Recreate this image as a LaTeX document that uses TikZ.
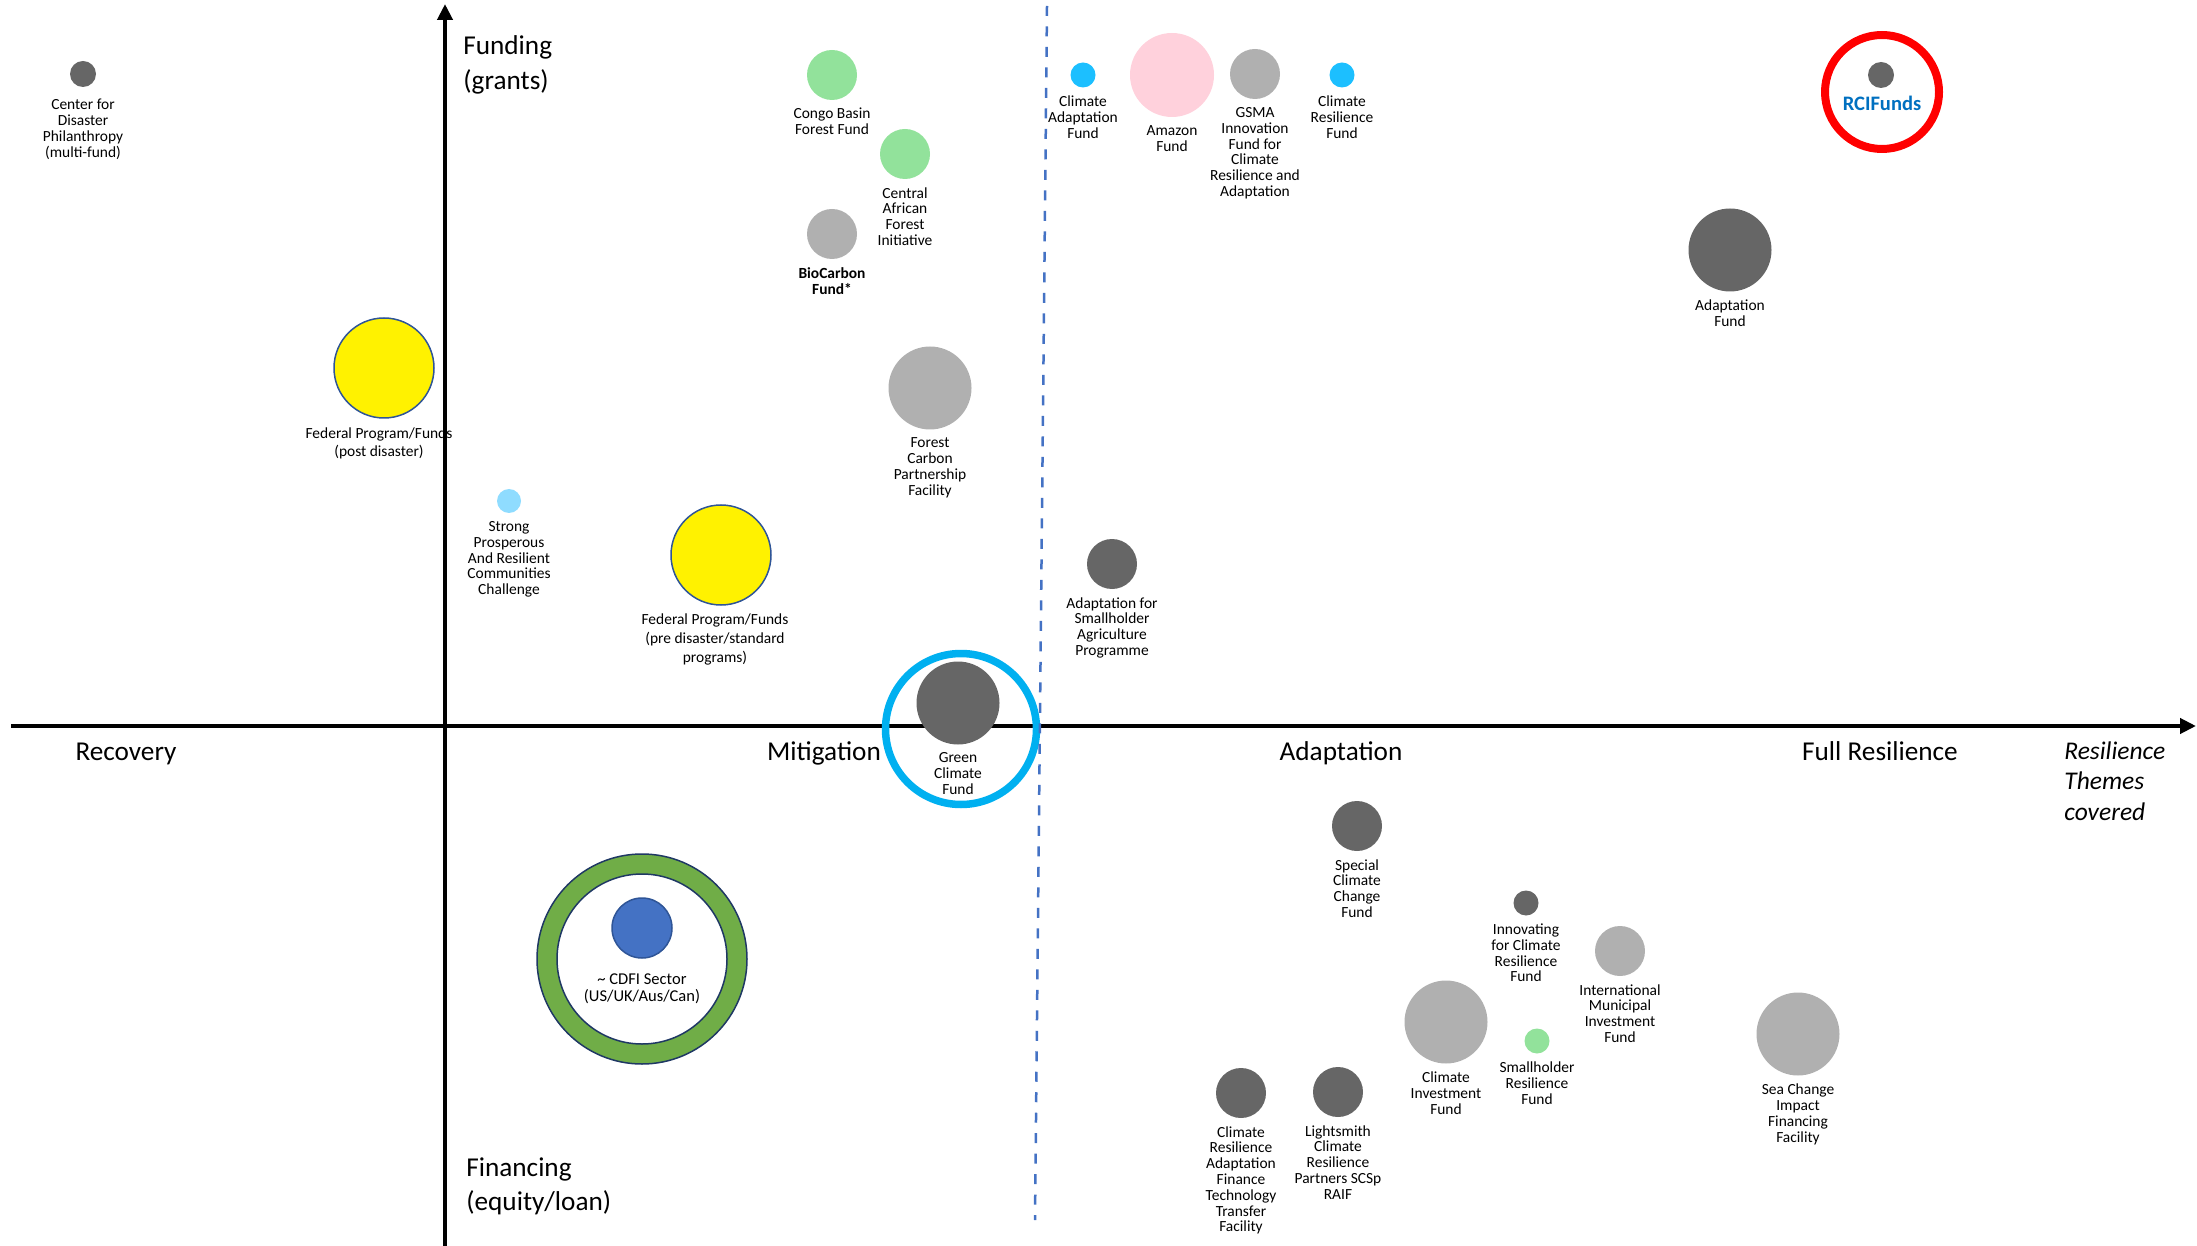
\documentclass[tikz,border=0pt]{standalone}
\usepackage{fontspec}
\setmainfont{Carlito}
\usetikzlibrary{positioning,arrows.meta}
\definecolor{dkgray}{HTML}{666666}
\definecolor{ltgray}{HTML}{B0B0B0}
\definecolor{mint}{HTML}{92E29B}
\definecolor{sky}{HTML}{1CBFFF}
\definecolor{pale}{HTML}{8FDCFF}
\definecolor{rose}{HTML}{FFD1DC}
\definecolor{navy}{HTML}{2F5597}
\definecolor{ringblue}{HTML}{00B0F0}
\definecolor{dashblue}{HTML}{4472C4}
\definecolor{leaf}{HTML}{70AD47}
\definecolor{deepnavy}{HTML}{1F3864}
\definecolor{rcitext}{HTML}{0070C0}
\tikzset{
	dot/.style={circle,inner sep=0pt,outer sep=0pt,minimum size=#1*0.02cm},
	ring/.style={circle,inner sep=0pt,outer sep=0pt,minimum size=#1*0.02cm},
	lbl/.style={align=center,inner sep=0pt,font=\fontsize{8.8}{9}\selectfont},
	axislbl/.style={inner sep=0pt,font=\fontsize{15.5}{19.8}\selectfont},
}
% one fund: name, centre, diameter, colour, label
\newcommand\fund[5]{\node (#1) [dot=#3,fill=#4] at (#2) {};
	\node (#1-t) [lbl,below=of #1] {#5};}
\begin{document}
\begin{tikzpicture}[x=0.02cm,y=-0.02cm,node distance=0.16cm]
	\useasboundingbox (0,0) rectangle (2197,1246);
	\coordinate (xs) at (11,726); \coordinate (xe) at (2196,726);
	\draw[line width=0.09cm,-{Triangle[length=0.32cm,width=0.3cm]}] (xs)--(xe);
	% axis texts
	\node (recov) [axislbl,anchor=base] at (126,760) {Recovery};
	\node (mitig) [axislbl,anchor=base] at (824,760) {Mitigation};
	\node (adapt) [axislbl,anchor=base] at (1341,760) {Adaptation};
	\node (fullres) [axislbl,anchor=base] at (1880,760) {Full Resilience};
	\node (fundg) [axislbl,align=left,anchor=north west] at (463,35) {Funding\\(grants)};
	\node (financ) [axislbl,align=left,anchor=north west] at (466,1157) {Financing\\(equity/loan)};
	\node (themes) [axislbl,align=left,anchor=north west,font=\fontsize{14.5}{17.6}\selectfont\itshape] at (2064,741) {Resilience\\Themes\\covered};
	% funds
	\node (cdp) [dot=26,fill=dkgray] at (83,74) {};
	\node (cdp-t) [lbl,below=0.24cm of cdp] {Center for\\Disaster\\Philanthropy\\(multi-fund)};
	\fund{congo}{832,75}{50}{mint}{Congo Basin\\Forest Fund}
	\fund{cafi}{905,154}{50}{mint}{Central\\African\\Forest\\Initiative}
	\node (biocarbon) [dot=50,fill=ltgray] at (832,234) {};
	\node (biocarbon-t) [lbl,font=\fontsize{8.8}{9}\selectfont\bfseries,below=of biocarbon] {BioCarbon\\Fund*};
	\fund{caf}{1083,75}{25}{sky}{Climate\\Adaptation\\Fund}
	\fund{amazon}{1172,75}{84}{rose}{Amazon\\Fund}
	\fund{gsma}{1255,74}{50}{ltgray}{GSMA\\Innovation\\Fund for\\Climate\\Resilience and\\Adaptation}
	\fund{crf}{1342,75}{25}{sky}{Climate\\Resilience\\Fund}
	\fund{adaptfund}{1730,250}{83}{dkgray}{Adaptation\\Fund}
	\node (fedpost) [dot=100,fill=yellow,draw=navy,line width=0.03cm] at (384,368) {};
	\node (fedpost-t) [lbl,font=\fontsize{8.8}{10.2}\selectfont,below=0.18cm of fedpost,xshift=-0.1cm] {Federal Program/Funds\\(post disaster)};
	\fund{sparc}{509,501}{24}{pale}{Strong\\Prosperous\\And Resilient\\Communities\\Challenge}
	\node (fedpre) [dot=100,fill=yellow,draw=navy,line width=0.03cm] at (721,555) {};
	\node (fedpre-t) [lbl,font=\fontsize{8.8}{10.8}\selectfont,below=0.16cm of fedpre,xshift=-0.12cm] {Federal Program/Funds\\(pre disaster/standard\\programs)};
	\fund{fcpf}{930,388}{83}{ltgray}{Forest\\Carbon\\Partnership\\Facility}
	\fund{asap}{1112,564}{50}{dkgray}{Adaptation for\\Smallholder\\Agriculture\\Programme}
	\fund{gcf}{958,703}{83}{dkgray}{Green\\Climate\\Fund}
	\fund{sccf}{1357,826}{50}{dkgray}{Special\\Climate\\Change\\Fund}
	\fund{icrf}{1526,903}{25}{dkgray}{Innovating\\for Climate\\Resilience\\Fund}
	\fund{imif}{1620,951}{50}{ltgray}{International\\Municipal\\Investment\\Fund}
	\fund{cif}{1446,1022}{83}{ltgray}{Climate\\Investment\\Fund}
	\fund{srf}{1537,1041}{25}{mint}{Smallholder\\Resilience\\Fund}
	\fund{craft}{1241,1093}{50}{dkgray}{Climate\\Resilience\\Adaptation\\Finance\\Technology\\Transfer\\Facility}
	\fund{lightsmith}{1338,1092}{50}{dkgray}{Lightsmith\\Climate\\Resilience\\Partners SCSp\\RAIF}
	\fund{seachange}{1798,1034}{83}{ltgray}{Sea Change\\Impact\\Financing\\Facility}
	% CDFI
	\node (cdfiring) [ring=210,fill=leaf,draw=deepnavy,line width=0.03cm] at (642,959) {};
	\node (cdfihole) [ring=170,fill=white,draw=deepnavy,line width=0.03cm] at (642,959) {};
	\node (cdfi) [dot=60,fill=dashblue,draw=navy,line width=0.03cm] at (642,928) {};
	\node (cdfi-t) [lbl,font=\fontsize{9.4}{10}\selectfont,below=0.3cm of cdfi] {\textasciitilde{} CDFI Sector\\(US/UK/Aus/Can)};
	% RCIFunds
	\node (rciring) [ring=114,draw=red,line width=0.16cm] at (1882,92) {};
	\node (rci) [dot=26,fill=dkgray] at (1881,75) {};
	\node (rci-t) [inner sep=0pt,font=\fontsize{11.7}{12}\selectfont\bfseries,text=rcitext] at (1882,103) {RCIFunds};
	% Green Climate Fund highlight
	\node (gcfring) [ring=151,draw=ringblue,line width=0.15cm] at (961,729) {};
	\coordinate (dtop) at (1047,6); \coordinate (dbot) at (1035,1220);
	\draw[dashblue,line width=0.05cm,dash pattern=on 0.2cm off 0.21cm] (dtop)--(dbot);
	\coordinate (ys) at (445,1246); \coordinate (ye) at (445,4);
	\draw[line width=0.09cm,-{Triangle[length=0.32cm,width=0.3cm]}] (ys)--(ye);
\end{tikzpicture}
\end{document}
